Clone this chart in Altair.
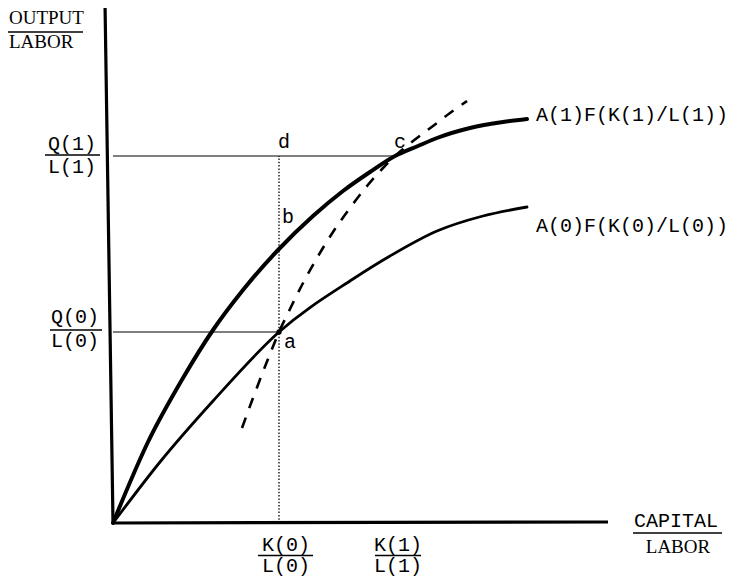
import altair as alt
import pandas as pd

# ---------------- data (x = capital/labor, y = output/labor) ----------------
k_upper = [0, 0.35, 0.70, 1.00, 1.30, 1.66, 2.00, 2.30, 2.57, 2.82, 3.05, 3.24, 3.57, 3.90, 4.14]
q_upper = [0, 0.81, 1.45, 1.93, 2.33, 2.74, 3.07, 3.32, 3.51, 3.67, 3.77, 3.85, 3.95, 4.01, 4.04]

k_lower = [0, 0.47, 1.00, 1.66, 2.40, 2.77, 3.24, 3.70, 4.14]
q_lower = [0, 0.61, 1.22, 1.91, 2.44, 2.67, 2.92, 3.07, 3.16]

k_path = [1.29, 1.40, 1.55, 1.66, 1.77, 1.89, 2.04, 2.20, 2.37, 2.54, 2.70, 2.82, 3.04, 3.20, 3.37, 3.54]
q_path = [0.95, 1.25, 1.64, 1.91, 2.14, 2.38, 2.65, 2.91, 3.15, 3.37, 3.55, 3.67, 3.85, 3.97, 4.10, 4.22]

k0, q0 = 1.66, 1.91   # point a
k1, q1 = 2.82, 3.67   # point c

curve_names = ["A(1)F(K(1)/L(1))", "A(0)F(K(0)/L(0))"]
point_names = ["a", "b", "c", "d"]
tick_num = ["Q(1)", "Q(0)", "K(0)", "K(1)"]
tick_den = ["L(1)", "L(0)", "L(0)", "L(1)"]

# ---------------- layout (data units) ----------------
XD = [-1.05, 6.21]
YD = [-0.53, 5.15]
xs = alt.Scale(domain=XD, nice=False, zero=False)
ys = alt.Scale(domain=YD, nice=False, zero=False)
MONO = "Liberation Mono"
SERIF = "Liberation Serif"


def X(f):
    return alt.X(f, type="quantitative", scale=xs, axis=None)


def Y(f):
    return alt.Y(f, type="quantitative", scale=ys, axis=None)


upper = pd.DataFrame({"k": k_upper, "q": q_upper})
lower = pd.DataFrame({"k": k_lower, "q": q_lower})
path = pd.DataFrame({"k": k_path, "q": q_path})

c_upper = alt.Chart(upper).mark_line(color="black", strokeWidth=4, interpolate="monotone",
                                     strokeCap="round").encode(x=X("k"), y=Y("q"))
c_lower = alt.Chart(lower).mark_line(color="black", strokeWidth=2.8, interpolate="monotone",
                                     strokeCap="round").encode(x=X("k"), y=Y("q"))
c_path = alt.Chart(path).mark_line(color="black", strokeWidth=2.6, interpolate="monotone",
                                   strokeDash=[11, 10]).encode(x=X("k"), y=Y("q"))

# axes drawn as rules
axes = pd.DataFrame({"x": [0, 0], "y": [0, 0], "x2": [4.95, -0.08], "y2": [0.01, 5.20]})
c_axes = alt.Chart(axes).mark_rule(color="black", strokeWidth=3.2).encode(
    x=X("x"), y=Y("y"), x2="x2", y2="y2")

# guide lines
hguides = pd.DataFrame({"x": [0, 0], "x2": [k1, k0], "y": [q1, q0]})
c_h = alt.Chart(hguides).mark_rule(color="black", strokeWidth=1.2).encode(x=X("x"), x2="x2", y=Y("y"))
vguide = pd.DataFrame({"x": [k0], "y": [0], "y2": [q1]})
c_v = alt.Chart(vguide).mark_rule(color="black", strokeWidth=1.3, strokeDash=[1.5, 1.8]).encode(
    x=X("x"), y=Y("y"), y2="y2")

dot = pd.DataFrame({"x": [k0], "y": [q0]})
c_dot = alt.Chart(dot).mark_point(filled=True, color="black", size=28, opacity=1).encode(x=X("x"), y=Y("y"))

# point letters
pts = pd.DataFrame({"t": point_names,
                    "x": [1.77, 1.75, 2.87, 1.71],
                    "y": [1.81, 3.06, 3.81, 3.81]})
c_pts = alt.Chart(pts).mark_text(font=MONO, fontSize=20, color="black", align="center",
                                 baseline="middle").encode(x=X("x"), y=Y("y"), text="t")

# curve labels
cl = pd.DataFrame({"t": curve_names, "x": [4.23, 4.23], "y": [4.08, 2.97]})
c_cl = alt.Chart(cl).mark_text(font=MONO, fontSize=20, color="black", align="left",
                               baseline="middle").encode(x=X("x"), y=Y("y"), text="t")

# fraction tick labels
fr = pd.DataFrame({
    "num": tick_num, "den": tick_den,
    "cx": [-0.41, -0.38, 1.73, 2.85],
    "ny": [3.79, 2.06, -0.215, -0.215],
    "dy": [3.56, 1.82, -0.425, -0.425],
    "by": [3.68, 1.93, -0.325, -0.325],
    "bx1": [-0.68, -0.63, 1.45, 2.62],
    "bx2": [-0.13, -0.11, 2.00, 3.08],
})
c_num = alt.Chart(fr).mark_text(font=MONO, fontSize=20, color="black", align="center",
                                baseline="middle").encode(x=X("cx"), y=Y("ny"), text="num")
c_den = alt.Chart(fr).mark_text(font=MONO, fontSize=20, color="black", align="center",
                                baseline="middle").encode(x=X("cx"), y=Y("dy"), text="den")
c_bar = alt.Chart(fr).mark_rule(color="black", strokeWidth=1.3).encode(x=X("bx1"), x2="bx2", y=Y("by"))

# axis titles
t_left = pd.DataFrame({"t": ["OUTPUT", "LABOR"], "x": [-1.04, -1.04], "y": [5.055, 4.81]})
c_ts_left = alt.Chart(t_left).mark_text(font=SERIF, fontSize=19, color="black", align="left",
                                        baseline="middle").encode(x=X("x"), y=Y("y"), text="t")
t_right = pd.DataFrame({"t": ["LABOR"], "x": [5.65], "y": [-0.24]})
c_ts_right = alt.Chart(t_right).mark_text(font=SERIF, fontSize=19, color="black", align="center",
                                          baseline="middle").encode(x=X("x"), y=Y("y"), text="t")
t_cap = pd.DataFrame({"t": ["CAPITAL"], "x": [5.63], "y": [0.02]})
c_cap = alt.Chart(t_cap).mark_text(font=MONO, fontSize=20, color="black", align="center",
                                   baseline="middle").encode(x=X("x"), y=Y("y"), text="t")
tbars = pd.DataFrame({"x": [-1.06, 5.20], "x2": [-0.30, 6.09], "y": [4.91, -0.10]})
c_tbars = alt.Chart(tbars).mark_rule(color="black", strokeWidth=1.3).encode(x=X("x"), x2="x2", y=Y("y"))

chart = alt.layer(
    c_h, c_v, c_axes, c_lower, c_upper, c_path, c_dot, c_pts, c_cl,
    c_num, c_den, c_bar, c_ts_left, c_ts_right, c_cap, c_tbars
).properties(
    width=726, height=568, padding=0,
    autosize=alt.AutoSizeParams(type="none"),
    background="white",
).configure_view(strokeWidth=0)

chart.save("out.html", embed_options={"renderer": "svg", "actions": False})
